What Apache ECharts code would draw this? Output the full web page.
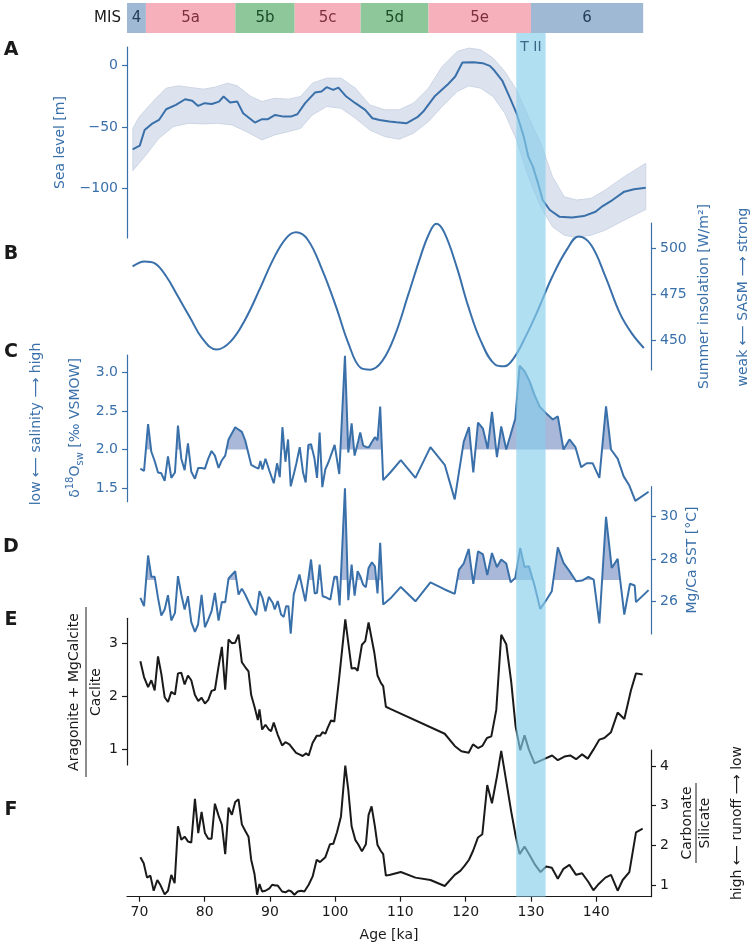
<!DOCTYPE html>
<html><head><meta charset="utf-8">
<script src="https://cdn.jsdelivr.net/npm/echarts@6/dist/echarts.min.js"></script>
<style>html,body{margin:0;padding:0;background:#fff}#c{width:754px;height:947px}</style>
</head><body><div id="c"></div>
<script>
// ---------------- DATA ----------------
const misBounds = [68.1, 71.0, 84.7, 93.8, 103.9, 114.3, 130.0, 147.2];
const misLabels = ['4', '5a', '5b', '5c', '5d', '5e', '6'];
const tII = [127.75, 132.25];
const xTicks = [70, 80, 90, 100, 110, 120, 130, 140];

// A: sea level
const aAge = [68.96,70.06,70.8,71.9,73.0,74.1,75.6,77.0,78.1,79.0,80.0,81.1,82.2,82.9,83.9,85.0,85.9,87.7,88.8,89.7,90.8,92.1,93.2,94.2,95.4,96.9,97.9,98.7,99.7,100.5,101.7,103.1,104.6,105.7,106.8,108.3,109.4,110.9,112.6,113.5,115.3,117.2,118.4,119.5,121.2,122.6,123.7,124.4,125.6,126.7,127.8,128.9,129.6,130.3,131.1,131.8,132.9,134.4,136.3,138.1,139.9,141.0,142.5,144.3,145.8,147.6];
const aVal = [-68.0,-65.0,-52.3,-47.4,-44.2,-35.5,-32.0,-27.4,-28.7,-32.8,-30.6,-31.2,-29.3,-25.2,-30.1,-29.3,-38.8,-46.3,-43.6,-43.6,-40.1,-41.5,-41.5,-39.6,-30.6,-22.0,-21.1,-17.6,-19.8,-17.9,-25.2,-30.6,-36.0,-42.8,-44.2,-45.5,-46.1,-46.9,-42.0,-37.4,-24.7,-15.7,-8.9,2.4,2.7,1.9,-0.3,-4.1,-12.2,-25.2,-38.8,-57.7,-74.0,-82.1,-95.7,-109.2,-117.3,-122.8,-123.3,-122.2,-118.7,-114.1,-109.2,-102.4,-100.5,-99.2];
const aUpAge = [69.0,70.0,72.3,74.1,76.0,77.5,79.8,81.6,83.5,85.0,87.1,88.8,90.7,92.8,94.7,96.5,98.7,100.9,103.1,105.3,107.6,109.8,112.0,114.3,116.4,118.7,120.5,122.3,124.2,126.0,127.8,129.6,131.5,133.3,135.1,137.0,139.2,141.4,144.3,147.6];
const aUp = [-51,-41.5,-28,-18.4,-16.5,-17.6,-19.2,-17.6,-14.4,-16.5,-25.2,-29.3,-26.6,-27.4,-25.2,-14.4,-10.3,-10.3,-18.4,-32,-36,-36,-30.6,-18.4,-0.8,11.4,14.1,12.7,6,-4.9,-19.8,-41.5,-63.1,-90.2,-106.5,-109.2,-107.9,-101,-90.2,-79.4];
const aLoAge = [69.0,70.8,73.0,75.2,77.5,79.8,82.0,84.2,86.4,88.8,90.7,92.8,94.7,96.5,98.7,100.9,103.1,105.3,107.6,109.8,112.0,114.3,116.4,118.7,120.5,122.3,124.2,126.0,127.8,129.6,131.5,133.3,135.1,137.0,139.2,141.4,144.3,147.6];
const aLo = [-85.4,-74,-59,-49.6,-46.9,-47.4,-46.9,-48.2,-53.7,-60.4,-56.4,-53.7,-51,-40.1,-33.3,-34.7,-42.8,-52.3,-57.7,-59.9,-55,-45.5,-33.3,-21.1,-16.5,-18.4,-25.2,-38.8,-60.4,-90.2,-114.6,-130.9,-137.7,-139.6,-137.7,-133.6,-125.5,-116.8];

// B: summer insolation
const bAge = [68.96,70.8,72.3,74.1,75.9,77.8,79.6,81.8,84.0,86.2,88.4,90.6,92.5,94.0,95.8,98.0,100.2,102.0,103.9,105.4,107.2,109.1,111.2,113.1,114.3,115.5,116.7,118.6,120.4,122.3,124.5,125.9,127.4,129.2,131.1,133.3,135.5,137.3,139.2,141.4,143.6,145.4,147.3];
const bVal = [490.4,493.1,492.2,485.0,474.1,462.3,451.4,445.1,449.6,461.4,477.7,494.9,505.8,508.9,504.9,488.6,467.8,448.8,435.2,434.2,438.8,452.3,475.0,496.0,507.5,513.6,509.0,490.4,468.6,450.0,437.0,436.0,440.6,452.3,466.8,485.0,499.5,506.7,502.2,485.0,465.1,454.2,446.0];

// C: d18O seawater
const cAge = [70.15,70.71,71.33,71.83,72.34,72.85,73.36,73.87,74.38,74.89,75.45,75.91,76.42,76.93,77.44,77.95,78.51,79.02,79.53,80.04,80.55,81.06,81.57,82.13,82.64,83.15,83.66,84.68,85.70,86.21,87.13,87.74,88.25,88.55,88.86,89.32,89.93,90.59,91.10,91.51,91.92,92.38,92.78,93.19,93.75,94.06,94.57,95.08,95.48,95.89,96.30,96.81,97.22,97.62,98.03,98.49,99.00,99.46,99.92,100.63,101.50,102.01,102.52,102.98,103.54,103.84,104.30,104.81,105.17,105.58,106.09,106.49,106.90,107.36,108.45,110.06,112.3,114.6,116.79,118.32,119.7,120.5,121.17,121.89,122.65,123.37,124.03,124.79,125.45,126.22,127.6,128.26,129.02,129.79,130.55,131.32,132.34,133.35,134.12,134.99,135.9,136.82,137.69,138.55,139.47,140.49,141.51,142.27,143.29,144.21,145.08,146.0,148.03];
const cVal = [1.75,1.72,2.33,1.97,1.85,1.70,1.69,1.59,1.91,1.63,1.70,2.31,1.88,1.73,2.08,1.71,1.62,1.76,1.76,1.75,1.88,1.98,1.92,1.76,1.86,1.92,2.13,2.29,2.23,2.12,1.80,1.77,1.75,1.85,1.74,1.88,1.72,1.56,1.82,1.64,2.29,1.84,2.13,1.52,1.71,1.82,2.03,1.70,1.57,2.06,2.07,1.89,1.63,2.22,1.51,1.74,1.84,1.95,2.06,1.68,3.22,1.96,2.34,1.92,2.11,2.22,2.05,2.03,2.03,2.09,2.16,2.12,2.56,1.60,1.70,1.86,1.63,2.03,1.80,1.35,2.10,2.29,1.70,2.35,2.27,2.01,2.49,1.90,2.30,2.00,2.40,3.09,3.02,2.89,2.71,2.56,2.47,2.39,2.43,2.00,2.13,2.03,1.77,1.82,1.82,1.63,2.56,2.00,1.88,1.65,1.53,1.33,1.45];
const cBase = 2.0;

// D: Mg/Ca SST
const dAge = [70.15,70.71,71.33,71.83,72.34,72.85,73.36,73.87,74.38,74.89,75.45,75.91,76.42,76.93,77.44,77.95,78.51,78.99,79.53,80.04,80.55,81.06,81.57,82.13,82.64,83.15,83.66,84.68,85.19,85.70,86.21,87.13,87.89,88.40,88.86,89.32,89.83,90.44,90.74,91.20,91.71,92.12,92.48,92.83,93.19,93.65,94.52,95.43,96.30,96.86,97.22,97.62,98.08,98.59,99.26,99.87,100.28,100.68,101.50,102.01,102.52,102.98,103.44,103.84,104.30,104.71,105.12,105.63,106.09,106.49,106.90,107.36,108.45,110.06,112.3,114.6,116.79,118.32,118.98,119.7,120.46,121.17,121.89,122.65,123.31,124.03,124.79,125.45,126.22,126.89,127.6,128.36,129.02,129.69,130.55,131.42,132.34,133.2,134.12,134.99,135.9,136.92,137.84,138.81,139.62,140.49,141.51,142.38,143.29,144.31,145.18,145.9,146.1,148.03];
const dVal = [26.15,25.76,28.16,27.15,27.15,26.15,25.31,25.60,26.28,25.08,25.44,27.18,26.31,25.60,26.23,25.00,24.54,24.89,26.29,24.76,25.12,25.52,26.39,25.08,25.96,25.95,27.07,27.42,26.31,26.59,26.31,25.71,25.33,26.47,26.15,25.52,26.20,25.91,25.60,26.00,25.36,25.25,25.76,25.76,24.46,26.31,27.26,25.99,27.97,26.36,26.39,27.73,26.23,26.18,26.07,27.15,27.15,25.79,31.35,26.04,27.73,26.26,27.42,27.18,26.77,26.66,27.57,27.84,27.65,26.36,28.76,25.84,26.12,26.67,25.99,26.89,26.55,26.34,27.49,27.78,28.47,26.82,28.36,28.21,27.23,28.28,27.61,27.97,27.78,26.89,27.10,28.52,27.62,27.65,26.74,25.63,26.04,26.47,28.55,27.81,27.42,26.94,26.97,27.15,27.02,24.94,29.99,27.57,28.00,25.36,26.82,26.74,25.95,26.52];
const dBase = 27.0;

// E: (Aragonite + MgCalcite) / Calcite
const eAge = [70.15,70.71,71.33,71.83,72.34,72.85,73.36,73.87,74.38,74.89,75.45,75.91,76.42,76.93,77.44,77.95,78.51,79.02,79.53,80.04,80.55,81.06,81.57,82.13,82.64,83.15,83.66,84.17,84.68,85.19,85.70,86.21,86.72,87.13,87.64,88.15,88.40,88.81,89.32,89.83,90.18,90.59,91.20,91.87,92.38,92.99,93.50,94.01,94.52,95.02,95.54,95.94,96.55,97.17,97.68,98.08,98.49,98.85,99.36,99.87,100.63,101.55,102.52,103.08,103.44,104.10,104.61,105.12,105.99,106.49,107.00,107.36,107.77,108.45,116.79,118.32,119.34,120.46,121.12,121.89,122.55,123.26,123.93,124.69,125.45,126.22,126.98,127.65,128.36,129.02,129.69,130.55,131.82,133.25,134.12,135.14,136.01,136.92,137.84,138.71,139.57,140.49,141.25,142.27,143.29,144.31,145.33,146.10,147.12];
const eVal = [2.66,2.36,2.17,2.30,2.11,2.75,2.42,1.98,1.89,2.08,2.03,2.43,2.44,2.22,2.39,2.30,2.02,1.91,1.97,1.86,1.93,2.10,2.12,2.56,2.93,2.12,3.07,3.00,3.01,3.16,2.64,2.55,2.47,2.02,1.80,1.55,1.75,1.37,1.46,1.37,1.34,1.50,1.27,1.07,1.13,1.09,1.01,0.93,0.90,0.87,0.92,0.88,1.12,1.25,1.25,1.32,1.29,1.40,1.54,1.52,2.36,3.45,2.52,2.53,2.48,2.97,3.04,3.39,2.83,2.39,2.25,2.19,1.80,1.76,1.29,1.06,0.96,0.93,1.09,1.02,1.06,1.21,1.24,1.74,3.16,2.98,2.27,1.43,0.98,1.26,0.99,0.73,0.80,0.88,0.79,0.86,0.88,0.81,0.90,0.82,0.99,1.18,1.21,1.32,1.69,1.57,2.11,2.43,2.41];

// F: Carbonate / Silicate
const fAge = [70.15,70.66,71.17,71.68,72.19,72.75,73.26,73.87,74.38,74.89,75.40,75.91,76.42,76.93,77.44,77.95,78.51,79.02,79.53,80.04,80.55,81.06,81.57,82.13,82.64,83.15,83.66,84.17,84.68,85.19,85.70,86.21,86.72,87.13,87.64,88.04,88.40,88.81,89.32,89.93,90.34,90.85,91.20,91.87,92.38,92.89,93.29,93.75,94.26,94.77,95.28,95.94,96.55,97.17,97.68,98.49,99.20,99.71,100.28,100.89,101.55,102.01,102.52,103.08,103.59,104.10,104.71,105.12,105.58,106.09,106.49,107.00,107.36,107.77,108.45,110.06,112.30,114.60,116.79,118.32,119.18,119.85,120.51,121.12,121.89,122.55,123.31,124.03,124.79,125.45,126.22,126.98,127.65,128.26,129.02,129.79,130.65,131.47,132.34,133.20,134.12,134.99,135.90,136.92,137.84,138.81,139.57,140.39,141.41,142.27,143.29,144.06,145.08,146.10,147.12];
const fVal = [1.70,1.55,1.19,1.24,0.86,1.13,0.99,0.77,0.86,1.26,1.05,2.48,2.14,2.22,2.10,2.07,3.17,2.31,2.84,2.31,2.17,2.17,3.05,2.75,2.52,1.78,2.95,2.77,3.09,3.16,2.53,2.37,2.22,1.64,1.28,0.76,1.03,0.84,0.86,0.92,1.01,0.99,0.99,0.84,0.82,0.87,0.84,0.76,0.84,0.86,0.84,1.01,1.22,1.64,1.58,1.70,2.03,2.04,2.33,2.73,4.01,3.40,2.48,2.14,2.01,1.85,2.03,2.77,2.98,2.48,2.01,1.86,1.78,1.24,1.26,1.33,1.19,1.13,0.98,1.26,1.36,1.49,1.64,1.86,2.20,2.28,3.52,3.06,3.73,4.38,3.61,2.85,2.25,1.78,1.97,1.76,1.51,1.33,1.47,1.44,1.16,1.41,1.51,1.26,1.30,1.08,0.87,1.03,1.19,1.26,0.86,1.13,1.33,2.33,2.42];

// ---------------- STYLE / LAYOUT ----------------
const FONT = 'DejaVu Sans';
const BLUE = '#3a70aa';
const BLACK = '#1a1a1a';
const XMIN = 68.1, XMAX = 148.4;
const L = 127, W = 524;
const gridBoxes = [[3,30],[47,191],[223,147],[355,146.7],[486.7,147.3],[618.3,146.7],[750,146.7],[33,863.7]];
function misFill(l){ if (l==='4'||l==='6') return '#9fb9d5'; if (l==='5b'||l==='5d') return '#8ec79a'; return '#f5b0bb'; }
function misInk(l){ if (l==='4'||l==='6') return '#253c58'; if (l==='5b'||l==='5d') return '#1b4a27'; return '#7d2f3f'; }

const pair = (xs, ys) => xs.map((x, i) => [x, ys[i]]);
function abovePoly(xs, ys, base){
  const pts = [[xs[0], base]];
  for (let i = 0; i < xs.length; i++) {
    if (i > 0) {
      const y0 = ys[i-1], y1 = ys[i];
      if ((y0 - base) * (y1 - base) < 0) {
        const t = (base - y0) / (y1 - y0);
        pts.push([xs[i-1] + t * (xs[i] - xs[i-1]), base]);
      }
    }
    pts.push([xs[i], Math.max(ys[i], base)]);
  }
  pts.push([xs[xs.length-1], base]);
  return pts;
}

const minus = v => (v < 0 ? '\u2212' + Math.abs(v) : String(v));
function yAx(i, pos, min, max, ticks, color, fmt){
  return {gridIndex:i, type:'value', position:pos, min:min, max:max,
    axisLine:{show:true, lineStyle:{color:color, width:1.2}},
    axisTick:{show:true, inside:false, length:5, customValues:ticks, lineStyle:{color:color, width:1.2}},
    axisLabel:{show:true, customValues:ticks, color:color, fontSize:14, fontFamily:FONT, margin:9, formatter:fmt || (v => String(v))},
    splitLine:{show:false}};
}
const hiddenY = i => ({gridIndex:i, type:'value', min:0, max:1, show:false});

function lineSeries(idx, xs, ys, color, smooth){
  return {type:'line', xAxisIndex:idx, yAxisIndex:idx, data:pair(xs, ys), showSymbol:false, symbol:'none',
    smooth:smooth || false, clip:false, silent:true, z:3, lineStyle:{color:color, width:2}};
}
function fillSeries(idx, xs, ys, base){
  const pts = abovePoly(xs, ys, base);
  return {type:'custom', xAxisIndex:idx, yAxisIndex:idx, silent:true, z:2, data:[[xs[0], base]],
    renderItem:(params, api) => ({type:'polygon', shape:{points:pts.map(p => api.coord(p))}, style:{fill:'#a9b8d8'}})};
}

function txt(x, y, text, o){
  o = o || {};
  return {type:'text', x:x, y:y, rotation:o.rot || 0, z:20,
    style:{text:text, fill:o.color || BLACK, fontSize:o.size || 14, fontFamily:FONT, fontWeight:o.weight || 'normal',
      align:o.align || 'center', verticalAlign:'middle', textAlign:o.align || 'center', textVerticalAlign:'middle', rich:o.rich}};
}
const R = Math.PI / 2;

const option = {
  animation:false,
  backgroundColor:'#ffffff',
  textStyle:{fontFamily:FONT},
  grid: gridBoxes.map(([t, h]) => ({left:L, width:W, top:t, height:h})),
  xAxis: gridBoxes.map((g, i) => i === 6 ? {
      gridIndex:i, type:'value', min:XMIN, max:XMAX,
      axisLine:{show:true, onZero:false, lineStyle:{color:BLACK, width:1.2}},
      axisTick:{show:true, inside:false, length:5, customValues:xTicks, lineStyle:{color:BLACK, width:1.2}},
      axisLabel:{show:true, customValues:xTicks, color:BLACK, fontSize:14, fontFamily:FONT, margin:9},
      splitLine:{show:false}
    } : {gridIndex:i, type:'value', min:XMIN, max:XMAX, show:false}),
  yAxis: [
    hiddenY(0),
    yAx(1, 'left', -140, 15, [-100, -50, 0], BLUE, minus),
    yAx(2, 'right', 434, 514, [450, 475, 500], BLUE),
    yAx(3, 'left', 1.32, 3.23, [1.5, 2.0, 2.5, 3.0], BLUE, v => v.toFixed(1)),
    yAx(4, 'right', 24.44, 31.42, [26, 28, 30], BLUE),
    yAx(5, 'left', 0.70, 3.47, [1, 2, 3], BLACK),
    yAx(6, 'right', 0.71, 4.40, [1, 2, 3, 4], BLACK),
    hiddenY(7)
  ],
  series: [
    {type:'custom', xAxisIndex:0, yAxisIndex:0, silent:true, z:2,
      data: misLabels.map((l, i) => [misBounds[i], misBounds[i+1]]), encode:{x:[0,1]},
      renderItem:(params, api) => {
        const l = misLabels[params.dataIndex];
        const a = api.coord([api.value(0), 0]), b = api.coord([api.value(1), 0]);
        const cs = params.coordSys;
        return {type:'group', children:[
          {type:'rect', shape:{x:a[0], y:cs.y, width:b[0]-a[0], height:cs.height}, style:{fill:misFill(l)}},
          {type:'text', x:(a[0]+b[0])/2, y:cs.y + cs.height/2,
            style:{text:l, fill:misInk(l), fontSize:15, fontFamily:FONT, align:'center', verticalAlign:'middle', textAlign:'center', textVerticalAlign:'middle'}}
        ]};
      }},
    {type:'custom', xAxisIndex:1, yAxisIndex:1, silent:true, z:1, data:[[aUpAge[0], aUp[0]]],
      renderItem:(params, api) => {
        const up = aUpAge.map((a, i) => api.coord([a, aUp[i]]));
        const lo = aLoAge.map((a, i) => api.coord([a, aLo[i]])).reverse();
        return {type:'polygon', shape:{points:up.concat(lo)}, style:{fill:'#dce3ee', stroke:'#cdd6e6', lineWidth:1}};
      }},
    lineSeries(1, aAge, aVal, BLUE, false),
    lineSeries(2, bAge, bVal, BLUE, 0.4),
    fillSeries(3, cAge, cVal, cBase),
    lineSeries(3, cAge, cVal, BLUE, false),
    fillSeries(4, dAge, dVal, dBase),
    lineSeries(4, dAge, dVal, BLUE, false),
    lineSeries(5, eAge, eVal, BLACK, false),
    lineSeries(6, fAge, fVal, BLACK, false),
    {type:'custom', xAxisIndex:7, yAxisIndex:7, silent:true, z:10, data:[[tII[0], tII[1]]], encode:{x:[0,1]},
      renderItem:(params, api) => {
        const a = api.coord([api.value(0), 0]), b = api.coord([api.value(1), 0]);
        const cs = params.coordSys;
        return {type:'rect', shape:{x:a[0], y:cs.y, width:b[0]-a[0], height:cs.height}, style:{fill:'#87ceeb', opacity:0.65}};
      }}
  ],
  graphic: [
    txt(121, 18, 'MIS', {align:'right', size:15}),
    txt(531, 47, 'T II', {color:'#3d6889', size:14}),
    txt(11, 50, 'A', {weight:'bold', size:19}),
    txt(11, 254, 'B', {weight:'bold', size:19}),
    txt(11, 352, 'C', {weight:'bold', size:19}),
    txt(11, 547, 'D', {weight:'bold', size:19}),
    txt(11, 620, 'E', {weight:'bold', size:19}),
    txt(11, 810, 'F', {weight:'bold', size:19}),
    txt(60, 142.5, 'Sea level [m]', {rot:R, color:BLUE}),
    txt(704, 296.5, 'Summer insolation [W/m\u00b2]', {rot:R, color:BLUE}),
    txt(743, 297, 'weak \u27f5 SASM \u27f6 strong', {rot:R, color:BLUE}),
    txt(36, 424, 'low \u27f5 salinity \u27f6 high', {rot:R, color:BLUE}),
    txt(75, 428, '{a|\u03b4}{s|18}{a|O}{b|sw}{a| [\u2030 VSMOW]}', {rot:R, color:BLUE, rich:{
      a:{fontSize:14, fontFamily:FONT, fill:BLUE, lineHeight:20, verticalAlign:'middle'},
      s:{fontSize:10, fontFamily:FONT, fill:BLUE, lineHeight:20, verticalAlign:'top'},
      b:{fontSize:10, fontFamily:FONT, fill:BLUE, lineHeight:20, verticalAlign:'bottom'}}}),
    txt(692, 560, 'Mg/Ca SST [\u00b0C]', {rot:R, color:BLUE}),
    txt(74, 692, 'Aragonite + MgCalcite', {rot:R}),
    {type:'line', z:20, shape:{x1:86, y1:607, x2:86, y2:777}, style:{stroke:BLACK, lineWidth:1}},
    txt(96, 692, 'Caclite', {rot:R}),
    txt(687, 823, 'Carbonate', {rot:R}),
    {type:'line', z:20, shape:{x1:696, y1:783, x2:696, y2:863}, style:{stroke:BLACK, lineWidth:1}},
    txt(705, 823, 'Silicate', {rot:R}),
    txt(737, 823, 'high \u27f5 runoff \u27f6 low', {rot:R}),
    txt(389, 935, 'Age [ka]', {})
  ]
};
echarts.init(document.getElementById('c')).setOption(option);
</script>
</body></html>
